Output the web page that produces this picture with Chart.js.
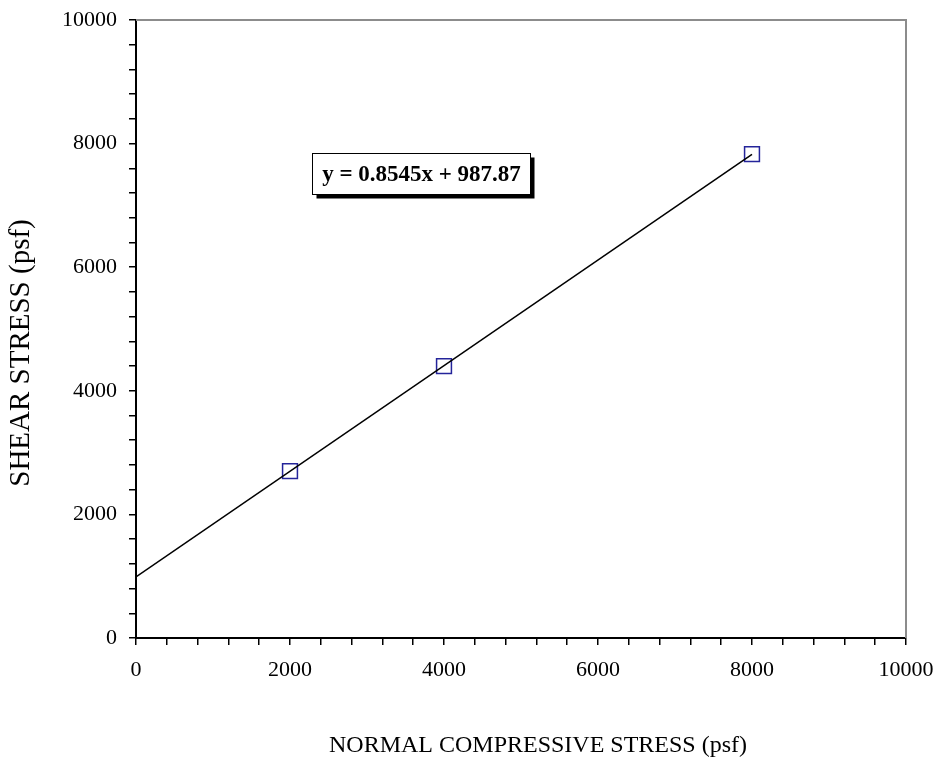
<!DOCTYPE html>
<html>
<head>
<meta charset="utf-8">
<script src="https://cdn.jsdelivr.net/npm/chart.js@4/dist/chart.umd.min.js"></script>
<style>
  html, body { margin: 0; padding: 0; background: #fff; }
  #wrap { width: 935px; height: 764px; }
</style>
</head>
<body>
<div id="wrap"><canvas id="chart" width="935" height="764"></canvas></div>
<script>
// measured points (psf)
var normalStress = [2000, 4000, 8000];
var shearStress = [2700, 4400, 7830];

// fitted line end points
var trendX = [0, 8000];
var trendY = [988, 7824];

var equationText = 'y = 0.8545x + 987.87';
var xTitle = 'NORMAL COMPRESSIVE STRESS (psf)';
var yTitle = 'SHEAR STRESS (psf)';
var majorTicks = [0, 2000, 4000, 6000, 8000, 10000];

var serif = "'Liberation Serif', 'Times New Roman', serif";

function toPoints(xs, ys) {
    return xs.map(function (x, i) { return { x: x, y: ys[i] }; });
}

function tickLabel(v) {
    return majorTicks.indexOf(v) >= 0 ? String(v) : '';
}

function everyFourHundred(s) {
    s.ticks = [];
    for (var v = 0; v <= 10000; v += 400) s.ticks.push({ value: v });
}

// grey top/right frame, axis titles (off-centre like the original) and the equation box
var framePlugin = {
    id: 'frame',
    afterDatasetsDraw: function (chart) {
        var ctx = chart.ctx, a = chart.chartArea;
        ctx.save();
        ctx.strokeStyle = '#8c8c8c';
        ctx.lineWidth = 2;
        ctx.beginPath();
        ctx.moveTo(a.left, a.top);
        ctx.lineTo(a.right, a.top);
        ctx.lineTo(a.right, a.bottom);
        ctx.stroke();

        ctx.fillStyle = '#000';
        ctx.textAlign = 'center';
        ctx.textBaseline = 'middle';
        ctx.font = '24px ' + serif;
        ctx.fillText(xTitle, (a.left + a.right) / 2 + 17, 746);
        ctx.save();
        ctx.translate(21, (a.top + a.bottom) / 2 + 24);
        ctx.rotate(-Math.PI / 2);
        ctx.font = '29px ' + serif;
        ctx.fillText(yTitle, 0, 0);
        ctx.restore();

        // equation label, anchored in data units
        var xs = chart.scales.x, ys = chart.scales.y;
        var bx = Math.round(xs.getPixelForValue(2286)) + 0.5;
        var by = Math.round(ys.getPixelForValue(7848)) + 0.5;
        var bw = 218, bh = 41;
        ctx.fillStyle = '#000';
        ctx.fillRect(bx + 4, by + 4, bw, bh);
        ctx.fillStyle = '#fff';
        ctx.fillRect(bx, by, bw, bh);
        ctx.strokeStyle = '#000';
        ctx.lineWidth = 1;
        ctx.strokeRect(bx, by, bw, bh);
        ctx.fillStyle = '#000';
        ctx.font = 'bold 23px ' + serif;
        ctx.fillText(equationText, bx + bw / 2, by + bh / 2 + 1);
        ctx.restore();
    }
};

new Chart(document.getElementById('chart').getContext('2d'), {
    type: 'scatter',
    data: {
        datasets: [{
            label: 'Trend',
            data: toPoints(trendX, trendY),
            showLine: true,
            borderColor: '#000',
            borderWidth: 1.5,
            pointRadius: 0,
            fill: false
        }, {
            label: 'Tests',
            data: toPoints(normalStress, shearStress),
            pointStyle: 'rect',
            pointRadius: 10.5,
            pointHoverRadius: 10.5,
            pointBorderColor: '#24249a',
            pointBackgroundColor: 'rgba(0,0,0,0)',
            pointBorderWidth: 1.5
        }]
    },
    options: {
        responsive: false,
        animation: false,
        layout: { padding: { top: 20, right: 29, bottom: 0, left: 0 } },
        plugins: {
            legend: { display: false },
            tooltip: { enabled: false }
        },
        scales: {
            x: {
                type: 'linear',
                min: 0,
                max: 10000,
                afterBuildTicks: everyFourHundred,
                afterFit: function (s) {
                    s.height = 126;
                    s.paddingLeft = 0;
                    s.paddingRight = 0;
                },
                border: { color: '#000', width: 2 },
                grid: { drawOnChartArea: false, drawTicks: true, tickLength: 7, color: '#000', lineWidth: 1.5 },
                ticks: {
                    autoSkip: false,
                    maxRotation: 0,
                    padding: 12,
                    color: '#000',
                    font: { family: serif, size: 22 },
                    callback: tickLabel
                }
            },
            y: {
                type: 'linear',
                min: 0,
                max: 10000,
                afterBuildTicks: everyFourHundred,
                afterFit: function (s) {
                    s.width = 136;
                    s.paddingTop = 0;
                    s.paddingBottom = 0;
                },
                border: { color: '#000', width: 2 },
                grid: { drawOnChartArea: false, drawTicks: true, tickLength: 7, color: '#000', lineWidth: 1.5 },
                ticks: {
                    autoSkip: false,
                    padding: 12,
                    color: '#000',
                    font: { family: serif, size: 22 },
                    callback: tickLabel
                }
            }
        }
    },
    plugins: [framePlugin]
});
</script>
</body>
</html>
